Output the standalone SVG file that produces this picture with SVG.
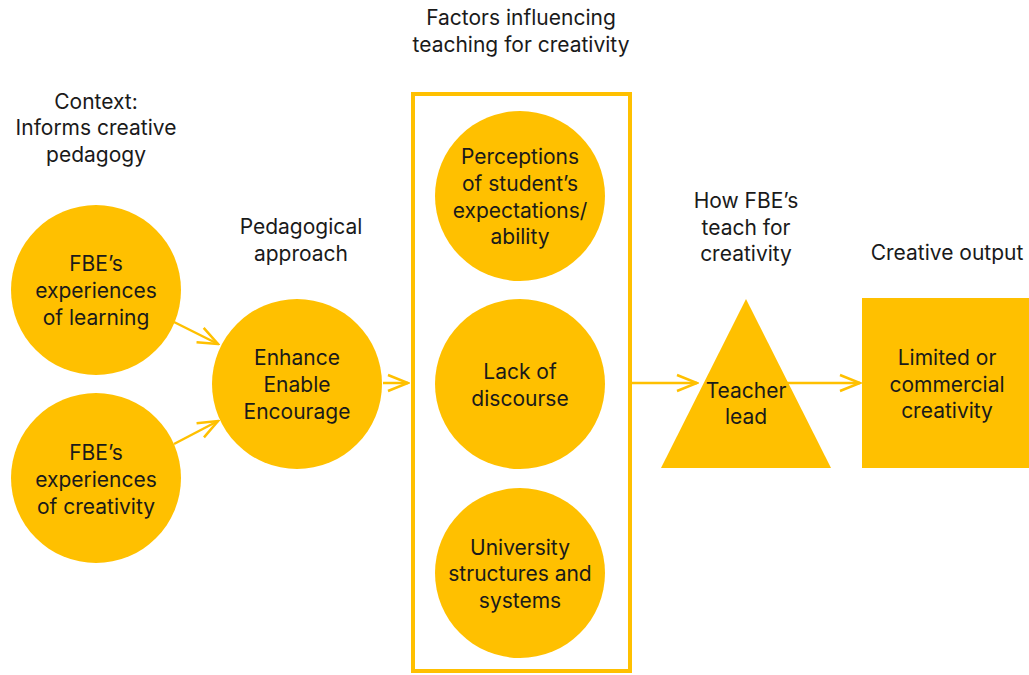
<svg xmlns="http://www.w3.org/2000/svg" width="1029" height="675" viewBox="0 0 1029 675">
<style>
.n{fill:#FFC000}
.t{font-family:Inter,"Liberation Sans",Arial,sans-serif;font-size:21px;fill:#1a1a1a;text-anchor:middle}
.c{stroke:#FFC000;stroke-width:2.5;fill:none}
</style>
<defs>
<marker id="ah" viewBox="0 0 24 20" refX="22" refY="10" markerWidth="24" markerHeight="20" markerUnits="userSpaceOnUse" orient="auto">
<path d="M2,2 L22,10 L2,18" fill="none" stroke="#FFC000" stroke-width="2.5"/>
</marker>
</defs>
<rect width="1029" height="675" fill="#fff"/>
<g id="labels">
<text class="t" x="96" y="109">Context:</text>
<text class="t" x="96" y="135">Informs creative</text>
<text class="t" x="96" y="162">pedagogy</text>
<text class="t" x="301" y="234">Pedagogical</text>
<text class="t" x="301" y="261">approach</text>
<text class="t" x="521" y="25">Factors influencing</text>
<text class="t" x="521" y="52">teaching for creativity</text>
<text class="t" x="746" y="208">How FBE’s</text>
<text class="t" x="746" y="235">teach for</text>
<text class="t" x="746" y="261">creativity</text>
<text class="t" x="947" y="260">Creative output</text>
</g>
<g id="connectors">
<line class="c" x1="174" y1="322" x2="218" y2="344" marker-end="url(#ah)"/>
<line class="c" x1="174" y1="444" x2="218" y2="421" marker-end="url(#ah)"/>
<line class="c" x1="383" y1="383" x2="408" y2="383" marker-end="url(#ah)"/>
<line class="c" x1="632" y1="383" x2="697" y2="383" marker-end="url(#ah)"/>
<line class="c" x1="787" y1="383" x2="860" y2="383" marker-end="url(#ah)"/>
</g>
<g id="factors-box">
<rect x="413" y="94" width="217" height="577" fill="none" stroke="#FFC000" stroke-width="4"/>
</g>
<g id="learning">
<circle class="n" cx="96" cy="290" r="85"/>
<text class="t" x="96" y="271">FBE’s</text>
<text class="t" x="96" y="298">experiences</text>
<text class="t" x="96" y="325">of learning</text>
</g>
<g id="creativity">
<circle class="n" cx="96" cy="478" r="85"/>
<text class="t" x="96" y="460">FBE’s</text>
<text class="t" x="96" y="487">experiences</text>
<text class="t" x="96" y="514">of creativity</text>
</g>
<g id="enhance">
<circle class="n" cx="297" cy="384" r="85"/>
<text class="t" x="297" y="365">Enhance</text>
<text class="t" x="297" y="392">Enable</text>
<text class="t" x="297" y="419">Encourage</text>
</g>
<g id="perceptions">
<circle class="n" cx="520" cy="196" r="85"/>
<text class="t" x="520" y="164">Perceptions</text>
<text class="t" x="520" y="191">of student’s</text>
<text class="t" x="520" y="218">expectations/</text>
<text class="t" x="520" y="244">ability</text>
</g>
<g id="discourse">
<circle class="n" cx="520" cy="384" r="85"/>
<text class="t" x="520" y="379">Lack of</text>
<text class="t" x="520" y="406">discourse</text>
</g>
<g id="university">
<circle class="n" cx="520" cy="573" r="85"/>
<text class="t" x="520" y="555">University</text>
<text class="t" x="520" y="581">structures and</text>
<text class="t" x="520" y="608">systems</text>
</g>
<g id="teacher">
<polygon class="n" points="746,299 831,468 661,468"/>
<text class="t" x="746" y="398">Teacher</text>
<text class="t" x="746" y="424">lead</text>
</g>
<g id="output">
<rect class="n" x="862" y="298" width="170" height="170"/>
<text class="t" x="947" y="365">Limited or</text>
<text class="t" x="947" y="392">commercial</text>
<text class="t" x="947" y="418">creativity</text>
</g>
</svg>
